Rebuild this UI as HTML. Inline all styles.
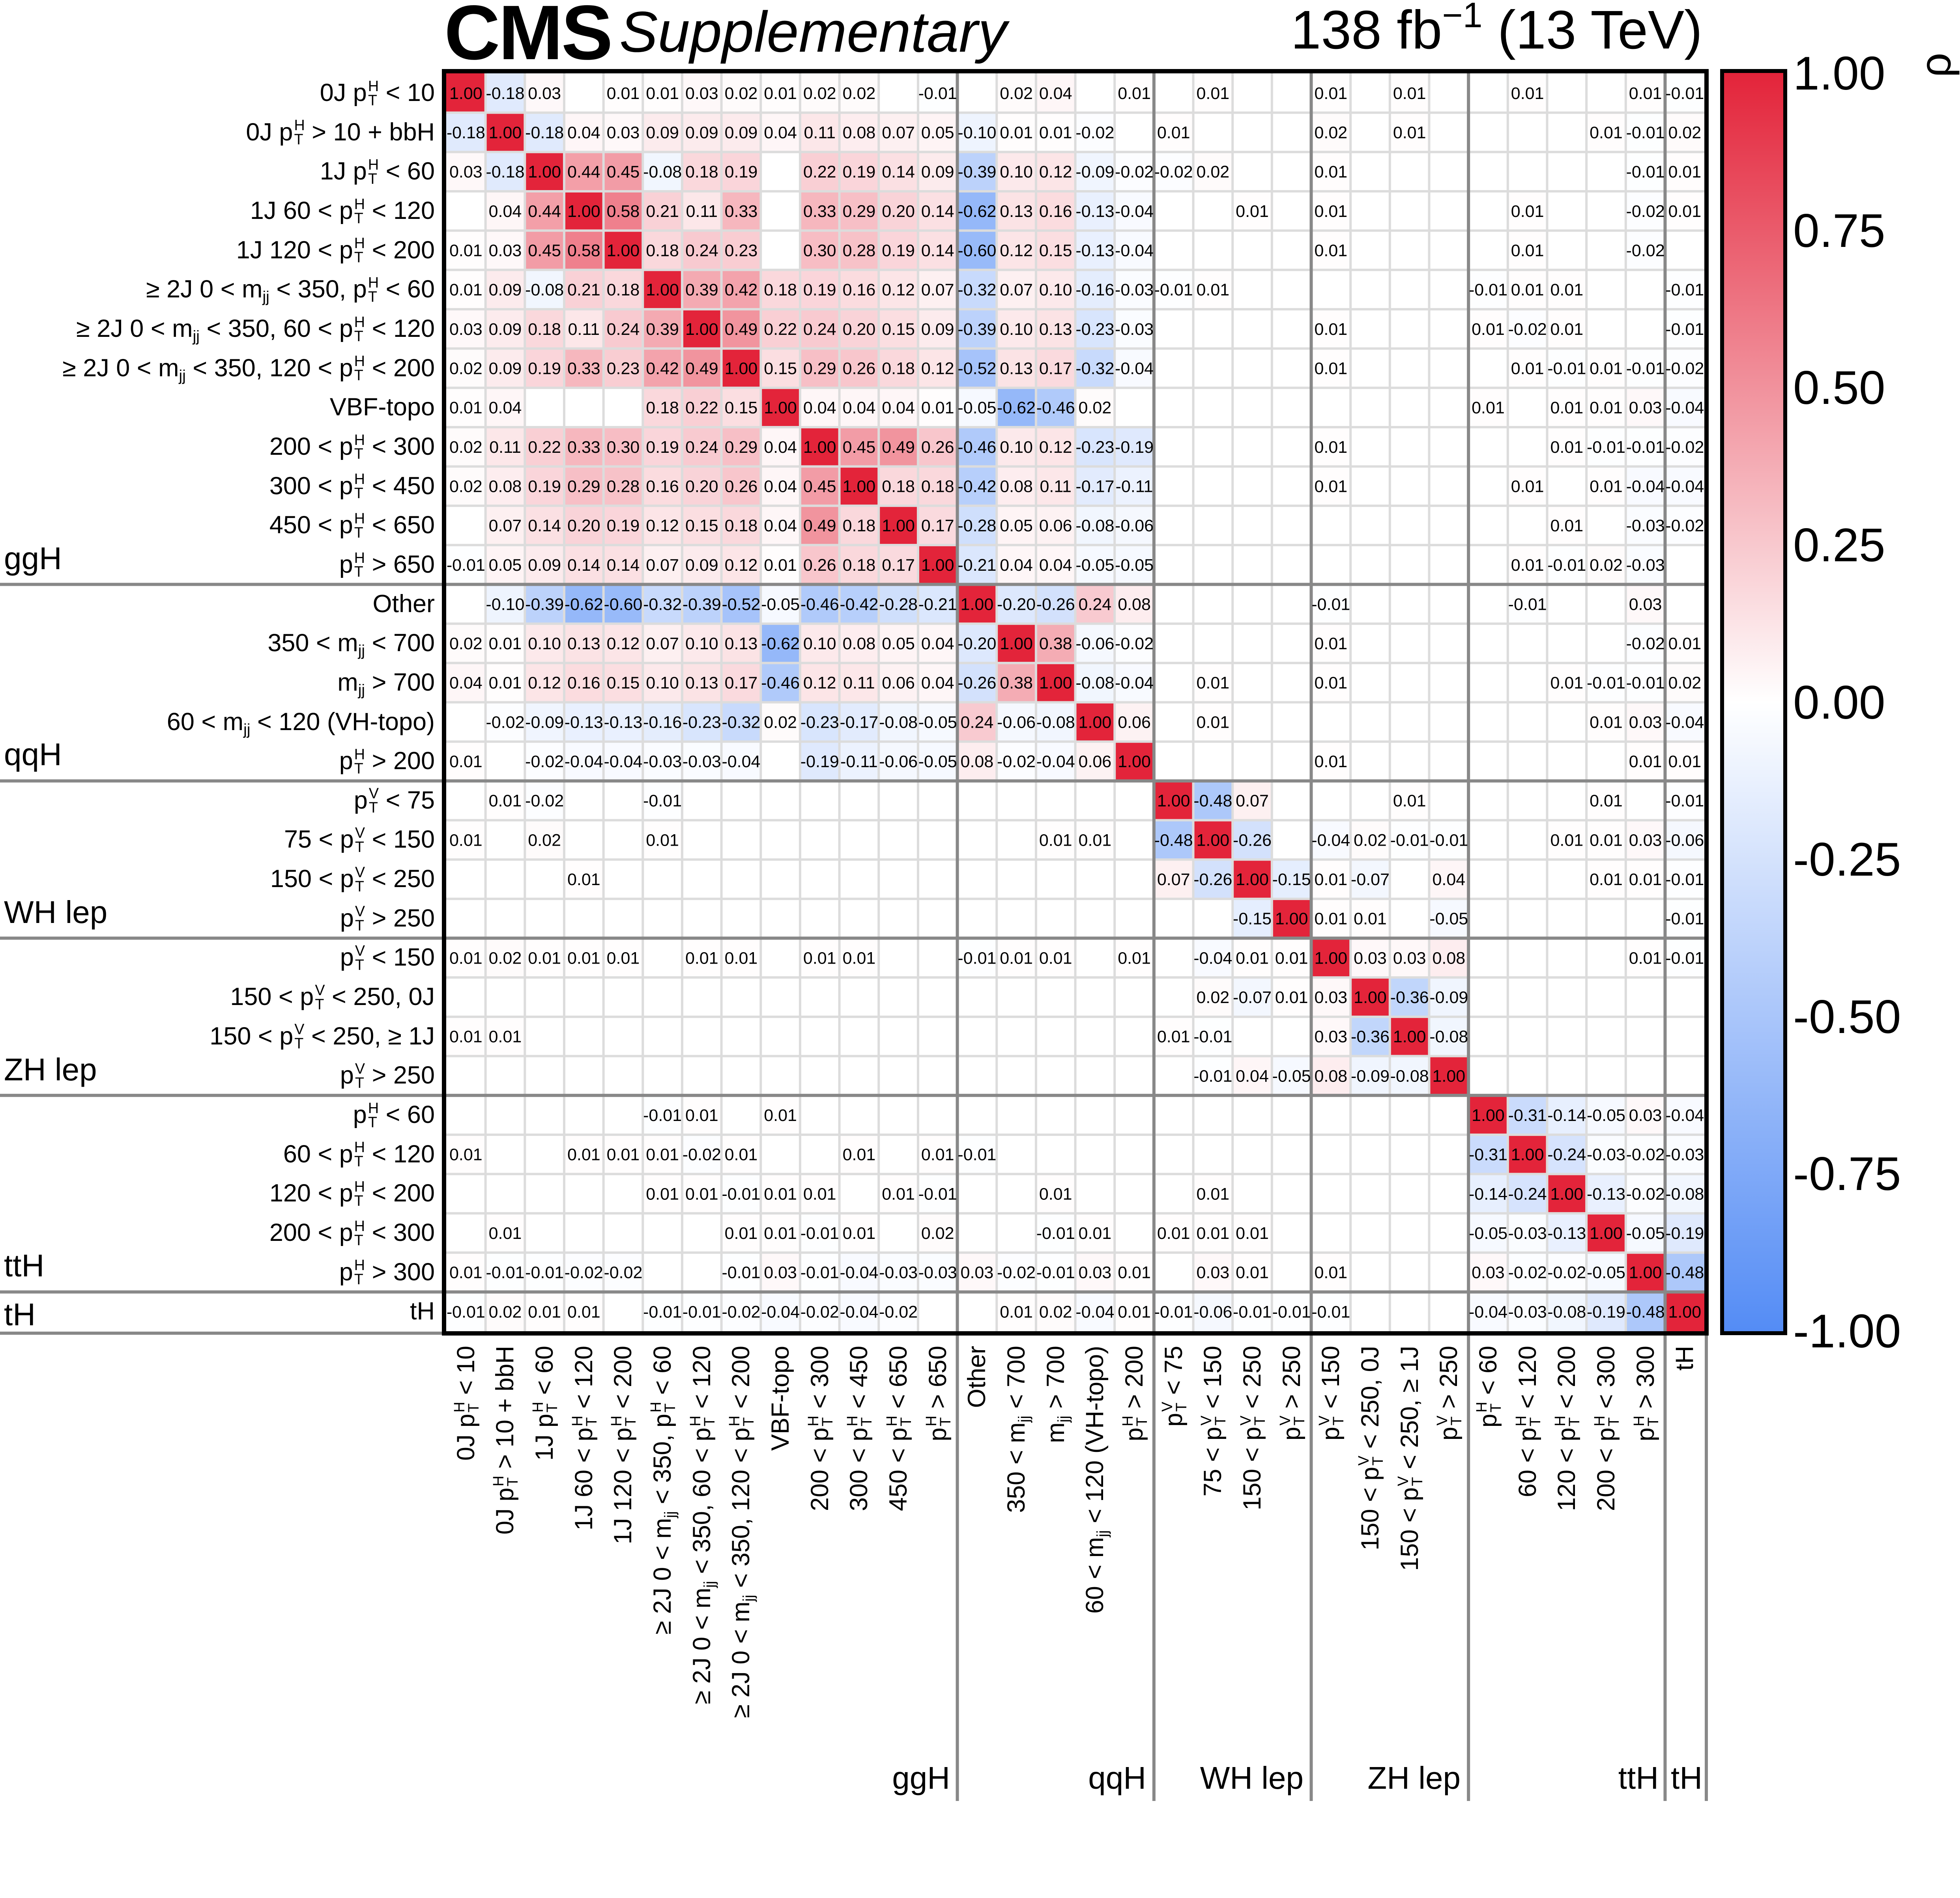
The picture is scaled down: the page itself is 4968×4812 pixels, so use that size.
<!DOCTYPE html>
<html><head><meta charset="utf-8">
<style>
html,body{margin:0;padding:0;background:#fff}
body{width:4968px;height:4566px;position:relative;overflow:hidden;font-family:"Liberation Sans",sans-serif;color:#000}
.abs{position:absolute;white-space:nowrap}
.ss{display:inline-block;vertical-align:-0.28em;font-size:0.6em;line-height:0.95;margin-left:3px;text-align:left}
.ss b{display:block;font-weight:normal}
sub{font-size:0.62em;vertical-align:-0.3em;line-height:0}
#rl{position:absolute;left:0;top:186px;width:1102px}
#rl div{height:99.66px;line-height:99.66px;text-align:right;font-size:63px;white-space:nowrap}
.cl{position:absolute;top:3412px;left:calc(1180.8px + 99.66px * var(--j));width:1400px;height:80px;line-height:80px;font-size:63px;text-align:right;white-space:nowrap;transform-origin:0 0;transform:rotate(-90deg) translate(-100%,-50%)}
.gl{position:absolute;font-size:80px;line-height:90px;white-space:nowrap}
.tk{position:absolute;left:4545px;font-size:120px;line-height:120px;transform:translateY(-50%)}
</style></head><body>
<div class="abs" style="left:1126px;top:-30px;font-size:196px;font-weight:bold;letter-spacing:-4px">CMS</div>
<div class="abs" style="left:1570px;top:-3px;font-size:146px;font-style:italic">Supplementary</div>
<div class="abs" style="right:653px;top:-3px;font-size:138px">138 fb<sup style="font-size:0.65em;vertical-align:0.6em;line-height:0">−1</sup> (13 TeV)</div>

<svg id="mx" class="abs" style="left:0;top:0" width="4968" height="4566"></svg>

<div id="rl">
<div>0J p<span class="ss"><b>H</b><b>T</b></span> &lt; 10</div>
<div>0J p<span class="ss"><b>H</b><b>T</b></span> &gt; 10 + bbH</div>
<div>1J p<span class="ss"><b>H</b><b>T</b></span> &lt; 60</div>
<div>1J 60 &lt; p<span class="ss"><b>H</b><b>T</b></span> &lt; 120</div>
<div>1J 120 &lt; p<span class="ss"><b>H</b><b>T</b></span> &lt; 200</div>
<div>≥ 2J 0 &lt; m<sub>jj</sub> &lt; 350, p<span class="ss"><b>H</b><b>T</b></span> &lt; 60</div>
<div>≥ 2J 0 &lt; m<sub>jj</sub> &lt; 350, 60 &lt; p<span class="ss"><b>H</b><b>T</b></span> &lt; 120</div>
<div>≥ 2J 0 &lt; m<sub>jj</sub> &lt; 350, 120 &lt; p<span class="ss"><b>H</b><b>T</b></span> &lt; 200</div>
<div>VBF-topo</div>
<div>200 &lt; p<span class="ss"><b>H</b><b>T</b></span> &lt; 300</div>
<div>300 &lt; p<span class="ss"><b>H</b><b>T</b></span> &lt; 450</div>
<div>450 &lt; p<span class="ss"><b>H</b><b>T</b></span> &lt; 650</div>
<div>p<span class="ss"><b>H</b><b>T</b></span> &gt; 650</div>
<div>Other</div>
<div>350 &lt; m<sub>jj</sub> &lt; 700</div>
<div>m<sub>jj</sub> &gt; 700</div>
<div>60 &lt; m<sub>jj</sub> &lt; 120 (VH-topo)</div>
<div>p<span class="ss"><b>H</b><b>T</b></span> &gt; 200</div>
<div>p<span class="ss"><b>V</b><b>T</b></span> &lt; 75</div>
<div>75 &lt; p<span class="ss"><b>V</b><b>T</b></span> &lt; 150</div>
<div>150 &lt; p<span class="ss"><b>V</b><b>T</b></span> &lt; 250</div>
<div>p<span class="ss"><b>V</b><b>T</b></span> &gt; 250</div>
<div>p<span class="ss"><b>V</b><b>T</b></span> &lt; 150</div>
<div>150 &lt; p<span class="ss"><b>V</b><b>T</b></span> &lt; 250, 0J</div>
<div>150 &lt; p<span class="ss"><b>V</b><b>T</b></span> &lt; 250,  ≥ 1J</div>
<div>p<span class="ss"><b>V</b><b>T</b></span> &gt; 250</div>
<div>p<span class="ss"><b>H</b><b>T</b></span> &lt; 60</div>
<div>60 &lt; p<span class="ss"><b>H</b><b>T</b></span> &lt; 120</div>
<div>120 &lt; p<span class="ss"><b>H</b><b>T</b></span> &lt; 200</div>
<div>200 &lt; p<span class="ss"><b>H</b><b>T</b></span> &lt; 300</div>
<div>p<span class="ss"><b>H</b><b>T</b></span> &gt; 300</div>
<div>tH</div>
</div>

<div class="cl" style="--j:0">0J p<span class="ss"><b>H</b><b>T</b></span> &lt; 10</div>
<div class="cl" style="--j:1">0J p<span class="ss"><b>H</b><b>T</b></span> &gt; 10 + bbH</div>
<div class="cl" style="--j:2">1J p<span class="ss"><b>H</b><b>T</b></span> &lt; 60</div>
<div class="cl" style="--j:3">1J 60 &lt; p<span class="ss"><b>H</b><b>T</b></span> &lt; 120</div>
<div class="cl" style="--j:4">1J 120 &lt; p<span class="ss"><b>H</b><b>T</b></span> &lt; 200</div>
<div class="cl" style="--j:5">≥ 2J 0 &lt; m<sub>jj</sub> &lt; 350, p<span class="ss"><b>H</b><b>T</b></span> &lt; 60</div>
<div class="cl" style="--j:6">≥ 2J 0 &lt; m<sub>jj</sub> &lt; 350, 60 &lt; p<span class="ss"><b>H</b><b>T</b></span> &lt; 120</div>
<div class="cl" style="--j:7">≥ 2J 0 &lt; m<sub>jj</sub> &lt; 350, 120 &lt; p<span class="ss"><b>H</b><b>T</b></span> &lt; 200</div>
<div class="cl" style="--j:8">VBF-topo</div>
<div class="cl" style="--j:9">200 &lt; p<span class="ss"><b>H</b><b>T</b></span> &lt; 300</div>
<div class="cl" style="--j:10">300 &lt; p<span class="ss"><b>H</b><b>T</b></span> &lt; 450</div>
<div class="cl" style="--j:11">450 &lt; p<span class="ss"><b>H</b><b>T</b></span> &lt; 650</div>
<div class="cl" style="--j:12">p<span class="ss"><b>H</b><b>T</b></span> &gt; 650</div>
<div class="cl" style="--j:13">Other</div>
<div class="cl" style="--j:14">350 &lt; m<sub>jj</sub> &lt; 700</div>
<div class="cl" style="--j:15">m<sub>jj</sub> &gt; 700</div>
<div class="cl" style="--j:16">60 &lt; m<sub>jj</sub> &lt; 120 (VH-topo)</div>
<div class="cl" style="--j:17">p<span class="ss"><b>H</b><b>T</b></span> &gt; 200</div>
<div class="cl" style="--j:18">p<span class="ss"><b>V</b><b>T</b></span> &lt; 75</div>
<div class="cl" style="--j:19">75 &lt; p<span class="ss"><b>V</b><b>T</b></span> &lt; 150</div>
<div class="cl" style="--j:20">150 &lt; p<span class="ss"><b>V</b><b>T</b></span> &lt; 250</div>
<div class="cl" style="--j:21">p<span class="ss"><b>V</b><b>T</b></span> &gt; 250</div>
<div class="cl" style="--j:22">p<span class="ss"><b>V</b><b>T</b></span> &lt; 150</div>
<div class="cl" style="--j:23">150 &lt; p<span class="ss"><b>V</b><b>T</b></span> &lt; 250, 0J</div>
<div class="cl" style="--j:24">150 &lt; p<span class="ss"><b>V</b><b>T</b></span> &lt; 250,  ≥ 1J</div>
<div class="cl" style="--j:25">p<span class="ss"><b>V</b><b>T</b></span> &gt; 250</div>
<div class="cl" style="--j:26">p<span class="ss"><b>H</b><b>T</b></span> &lt; 60</div>
<div class="cl" style="--j:27">60 &lt; p<span class="ss"><b>H</b><b>T</b></span> &lt; 120</div>
<div class="cl" style="--j:28">120 &lt; p<span class="ss"><b>H</b><b>T</b></span> &lt; 200</div>
<div class="cl" style="--j:29">200 &lt; p<span class="ss"><b>H</b><b>T</b></span> &lt; 300</div>
<div class="cl" style="--j:30">p<span class="ss"><b>H</b><b>T</b></span> &gt; 300</div>
<div class="cl" style="--j:31">tH</div>

<div class="gl" style="left:10px;top:1371px">ggH</div>
<div class="gl" style="left:10px;top:1868px">qqH</div>
<div class="gl" style="left:10px;top:2268px">WH lep</div>
<div class="gl" style="left:10px;top:2667px">ZH lep</div>
<div class="gl" style="left:10px;top:3164px">ttH</div>
<div class="gl" style="left:10px;top:3288px">tH</div>

<div class="gl" style="right:2560px;top:4463px">ggH</div>
<div class="gl" style="right:2063px;top:4463px">qqH</div>
<div class="gl" style="right:1664px;top:4463px">WH lep</div>
<div class="gl" style="right:1266px;top:4463px">ZH lep</div>
<div class="gl" style="right:764px;top:4463px">ttH</div>
<div class="gl" style="right:653px;top:4463px">tH</div>

<div class="abs" style="left:4360px;top:175px;width:150px;height:3190px;border:10px solid #000;background:linear-gradient(to bottom,rgb(227,36,58) 0%,#fff 50%,rgb(84,140,245) 100%)"></div>
<div class="tk" style="top:186px">1.00</div>
<div class="tk" style="top:584.6px">0.75</div>
<div class="tk" style="top:983.2px">0.50</div>
<div class="tk" style="top:1381.9px">0.25</div>
<div class="tk" style="top:1780.5px">0.00</div>
<div class="tk" style="top:2179.1px">-0.25</div>
<div class="tk" style="top:2577.8px">-0.50</div>
<div class="tk" style="top:2976.4px">-0.75</div>
<div class="tk" style="top:3375px">-1.00</div>
<div class="abs" style="left:4875px;top:110px;font-size:110px;line-height:110px;transform:rotate(-90deg)">ρ</div>

<script>
var R=[
"0:1.00 1:-0.18 2:0.03 4:0.01 5:0.01 6:0.03 7:0.02 8:0.01 9:0.02 10:0.02 12:-0.01 14:0.02 15:0.04 17:0.01 19:0.01 22:0.01 24:0.01 27:0.01 30:0.01 31:-0.01",
"0:-0.18 1:1.00 2:-0.18 3:0.04 4:0.03 5:0.09 6:0.09 7:0.09 8:0.04 9:0.11 10:0.08 11:0.07 12:0.05 13:-0.10 14:0.01 15:0.01 16:-0.02 18:0.01 22:0.02 24:0.01 29:0.01 30:-0.01 31:0.02",
"0:0.03 1:-0.18 2:1.00 3:0.44 4:0.45 5:-0.08 6:0.18 7:0.19 9:0.22 10:0.19 11:0.14 12:0.09 13:-0.39 14:0.10 15:0.12 16:-0.09 17:-0.02 18:-0.02 19:0.02 22:0.01 30:-0.01 31:0.01",
"1:0.04 2:0.44 3:1.00 4:0.58 5:0.21 6:0.11 7:0.33 9:0.33 10:0.29 11:0.20 12:0.14 13:-0.62 14:0.13 15:0.16 16:-0.13 17:-0.04 20:0.01 22:0.01 27:0.01 30:-0.02 31:0.01",
"0:0.01 1:0.03 2:0.45 3:0.58 4:1.00 5:0.18 6:0.24 7:0.23 9:0.30 10:0.28 11:0.19 12:0.14 13:-0.60 14:0.12 15:0.15 16:-0.13 17:-0.04 22:0.01 27:0.01 30:-0.02",
"0:0.01 1:0.09 2:-0.08 3:0.21 4:0.18 5:1.00 6:0.39 7:0.42 8:0.18 9:0.19 10:0.16 11:0.12 12:0.07 13:-0.32 14:0.07 15:0.10 16:-0.16 17:-0.03 18:-0.01 19:0.01 26:-0.01 27:0.01 28:0.01 31:-0.01",
"0:0.03 1:0.09 2:0.18 3:0.11 4:0.24 5:0.39 6:1.00 7:0.49 8:0.22 9:0.24 10:0.20 11:0.15 12:0.09 13:-0.39 14:0.10 15:0.13 16:-0.23 17:-0.03 22:0.01 26:0.01 27:-0.02 28:0.01 31:-0.01",
"0:0.02 1:0.09 2:0.19 3:0.33 4:0.23 5:0.42 6:0.49 7:1.00 8:0.15 9:0.29 10:0.26 11:0.18 12:0.12 13:-0.52 14:0.13 15:0.17 16:-0.32 17:-0.04 22:0.01 27:0.01 28:-0.01 29:0.01 30:-0.01 31:-0.02",
"0:0.01 1:0.04 5:0.18 6:0.22 7:0.15 8:1.00 9:0.04 10:0.04 11:0.04 12:0.01 13:-0.05 14:-0.62 15:-0.46 16:0.02 26:0.01 28:0.01 29:0.01 30:0.03 31:-0.04",
"0:0.02 1:0.11 2:0.22 3:0.33 4:0.30 5:0.19 6:0.24 7:0.29 8:0.04 9:1.00 10:0.45 11:0.49 12:0.26 13:-0.46 14:0.10 15:0.12 16:-0.23 17:-0.19 22:0.01 28:0.01 29:-0.01 30:-0.01 31:-0.02",
"0:0.02 1:0.08 2:0.19 3:0.29 4:0.28 5:0.16 6:0.20 7:0.26 8:0.04 9:0.45 10:1.00 11:0.18 12:0.18 13:-0.42 14:0.08 15:0.11 16:-0.17 17:-0.11 22:0.01 27:0.01 29:0.01 30:-0.04 31:-0.04",
"1:0.07 2:0.14 3:0.20 4:0.19 5:0.12 6:0.15 7:0.18 8:0.04 9:0.49 10:0.18 11:1.00 12:0.17 13:-0.28 14:0.05 15:0.06 16:-0.08 17:-0.06 28:0.01 30:-0.03 31:-0.02",
"0:-0.01 1:0.05 2:0.09 3:0.14 4:0.14 5:0.07 6:0.09 7:0.12 8:0.01 9:0.26 10:0.18 11:0.17 12:1.00 13:-0.21 14:0.04 15:0.04 16:-0.05 17:-0.05 27:0.01 28:-0.01 29:0.02 30:-0.03",
"1:-0.10 2:-0.39 3:-0.62 4:-0.60 5:-0.32 6:-0.39 7:-0.52 8:-0.05 9:-0.46 10:-0.42 11:-0.28 12:-0.21 13:1.00 14:-0.20 15:-0.26 16:0.24 17:0.08 22:-0.01 27:-0.01 30:0.03",
"0:0.02 1:0.01 2:0.10 3:0.13 4:0.12 5:0.07 6:0.10 7:0.13 8:-0.62 9:0.10 10:0.08 11:0.05 12:0.04 13:-0.20 14:1.00 15:0.38 16:-0.06 17:-0.02 22:0.01 30:-0.02 31:0.01",
"0:0.04 1:0.01 2:0.12 3:0.16 4:0.15 5:0.10 6:0.13 7:0.17 8:-0.46 9:0.12 10:0.11 11:0.06 12:0.04 13:-0.26 14:0.38 15:1.00 16:-0.08 17:-0.04 19:0.01 22:0.01 28:0.01 29:-0.01 30:-0.01 31:0.02",
"1:-0.02 2:-0.09 3:-0.13 4:-0.13 5:-0.16 6:-0.23 7:-0.32 8:0.02 9:-0.23 10:-0.17 11:-0.08 12:-0.05 13:0.24 14:-0.06 15:-0.08 16:1.00 17:0.06 19:0.01 29:0.01 30:0.03 31:-0.04",
"0:0.01 2:-0.02 3:-0.04 4:-0.04 5:-0.03 6:-0.03 7:-0.04 9:-0.19 10:-0.11 11:-0.06 12:-0.05 13:0.08 14:-0.02 15:-0.04 16:0.06 17:1.00 22:0.01 30:0.01 31:0.01",
"1:0.01 2:-0.02 5:-0.01 18:1.00 19:-0.48 20:0.07 24:0.01 29:0.01 31:-0.01",
"0:0.01 2:0.02 5:0.01 15:0.01 16:0.01 18:-0.48 19:1.00 20:-0.26 22:-0.04 23:0.02 24:-0.01 25:-0.01 28:0.01 29:0.01 30:0.03 31:-0.06",
"3:0.01 18:0.07 19:-0.26 20:1.00 21:-0.15 22:0.01 23:-0.07 25:0.04 29:0.01 30:0.01 31:-0.01",
"20:-0.15 21:1.00 22:0.01 23:0.01 25:-0.05 31:-0.01",
"0:0.01 1:0.02 2:0.01 3:0.01 4:0.01 6:0.01 7:0.01 9:0.01 10:0.01 13:-0.01 14:0.01 15:0.01 17:0.01 19:-0.04 20:0.01 21:0.01 22:1.00 23:0.03 24:0.03 25:0.08 30:0.01 31:-0.01",
"19:0.02 20:-0.07 21:0.01 22:0.03 23:1.00 24:-0.36 25:-0.09",
"0:0.01 1:0.01 18:0.01 19:-0.01 22:0.03 23:-0.36 24:1.00 25:-0.08",
"19:-0.01 20:0.04 21:-0.05 22:0.08 23:-0.09 24:-0.08 25:1.00",
"5:-0.01 6:0.01 8:0.01 26:1.00 27:-0.31 28:-0.14 29:-0.05 30:0.03 31:-0.04",
"0:0.01 3:0.01 4:0.01 5:0.01 6:-0.02 7:0.01 10:0.01 12:0.01 13:-0.01 26:-0.31 27:1.00 28:-0.24 29:-0.03 30:-0.02 31:-0.03",
"5:0.01 6:0.01 7:-0.01 8:0.01 9:0.01 11:0.01 12:-0.01 15:0.01 19:0.01 26:-0.14 27:-0.24 28:1.00 29:-0.13 30:-0.02 31:-0.08",
"1:0.01 7:0.01 8:0.01 9:-0.01 10:0.01 12:0.02 15:-0.01 16:0.01 18:0.01 19:0.01 20:0.01 26:-0.05 27:-0.03 28:-0.13 29:1.00 30:-0.05 31:-0.19",
"0:0.01 1:-0.01 2:-0.01 3:-0.02 4:-0.02 7:-0.01 8:0.03 9:-0.01 10:-0.04 11:-0.03 12:-0.03 13:0.03 14:-0.02 15:-0.01 16:0.03 17:0.01 19:0.03 20:0.01 22:0.01 26:0.03 27:-0.02 28:-0.02 29:-0.05 30:1.00 31:-0.48",
"0:-0.01 1:0.02 2:0.01 3:0.01 5:-0.01 6:-0.01 7:-0.02 8:-0.04 9:-0.02 10:-0.04 11:-0.02 14:0.01 15:0.02 16:-0.04 17:0.01 18:-0.01 19:-0.06 20:-0.01 21:-0.01 22:-0.01 26:-0.04 27:-0.03 28:-0.08 29:-0.19 30:-0.48 31:1.00"
];
var X0=1131,Y0=186,C=99.66,s=[];
function col(v){var r,g,b;if(v>=0){r=255-28*v;g=255-219*v;b=255-197*v;}else{var a=-v;r=255-171*a;g=255-115*a;b=255-10*a;}return "rgb("+Math.round(r)+","+Math.round(g)+","+Math.round(b)+")";}
var T=[];
for(var i=0;i<32;i++){R[i].split(" ").forEach(function(p){var q=p.split(":"),j=+q[0],v=q[1];
 s.push('<rect x="'+(X0+C*j)+'" y="'+(Y0+C*i)+'" width="'+(C+0.5)+'" height="'+(C+0.5)+'" fill="'+col(+v)+'"/>');
 T.push('<text x="'+(X0+C*(j+0.5))+'" y="'+(Y0+C*(i+0.5)+15)+'" text-anchor="middle" font-size="43" font-family="Liberation Sans, sans-serif">'+v+'</text>');});}
for(var k=1;k<32;k++){s.push('<line x1="'+(X0+C*k)+'" y1="'+Y0+'" x2="'+(X0+C*k)+'" y2="3375" stroke="#dcdcdc" stroke-width="6"/>');
 s.push('<line x1="'+X0+'" y1="'+(Y0+C*k)+'" x2="4320" y2="'+(Y0+C*k)+'" stroke="#dcdcdc" stroke-width="6"/>');}
[13,18,22,26,31].forEach(function(k){s.push('<line x1="0" y1="'+(Y0+C*k)+'" x2="4320" y2="'+(Y0+C*k)+'" stroke="#888" stroke-width="8"/>');
 s.push('<line x1="'+(X0+C*k)+'" y1="'+Y0+'" x2="'+(X0+C*k)+'" y2="4566" stroke="#888" stroke-width="8"/>');});
s.push('<line x1="0" y1="3380" x2="1131" y2="3380" stroke="#888" stroke-width="8"/>');
s.push('<line x1="4325" y1="3380" x2="4325" y2="4566" stroke="#888" stroke-width="8"/>');
s.push('<rect x="1125.5" y="180.5" width="3200" height="3200" fill="none" stroke="#000" stroke-width="11"/>');
for(var t=0;t<=40;t++){var y=186+t*3189/40;var L=(t%5==0)?60:28;if(t>0&&t<40)s.push('<line x1="'+(4520-L)+'" y1="'+y+'" x2="4520" y2="'+y+'" stroke="#000" stroke-width="5"/>');}
document.getElementById("mx").innerHTML=s.join("")+T.join("");
</script>
</body></html>
